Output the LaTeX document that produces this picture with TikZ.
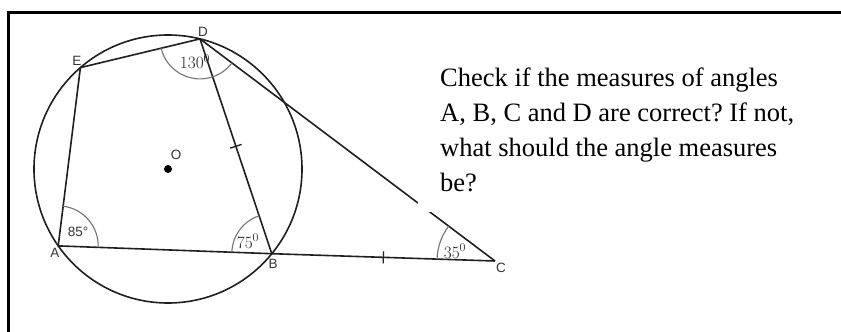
\documentclass[tikz,border=0pt]{standalone}
\usepackage{fontspec}
\setmainfont{Liberation Serif}
\newfontfamily\ptfont{Liberation Sans}
\usetikzlibrary{angles,decorations.markings}

\tikzset{
    seg/.style={line width=1.6pt, draw=black!88},
    anglearc/.style={draw=black!55, line width=1.1pt, angle radius=40pt},
    ptlabel/.style={font=\ptfont\fontsize{13.5}{15}\selectfont, text=black!80, inner sep=0pt},
    measure/.style={font=\fontsize{16.5}{18}\selectfont, text=black!85, inner sep=0pt},
    tickmid/.style={postaction={decorate},
        decoration={markings, mark=at position 0.5 with {\draw[line width=1.3pt] (0,-6pt) -- (0,6pt);}}}
}

\begin{document}
\frenchspacing
\begin{tikzpicture}[x=1pt, y=1pt]
        \useasboundingbox (0,0) rectangle (841,332);

        % Frame
        \draw[line width=3pt] (8,0) -- (8,319) -- (841,319);

        % Circle and points on it
        \coordinate (O) at (168,163);
        \coordinate (D) at (200,293.1);
        \coordinate (E) at (80.4,264.4);
        \coordinate (A) at (58.2,86.1);
        \coordinate (B) at (271.8,78.3);
        \coordinate (C) at (495,71);
        \draw[seg] (O) circle (134);
        \fill (O) circle (4pt);

        % Sides
        \draw[seg] (D) -- (E) -- (A) -- (B);
        \draw[seg, tickmid] (D) -- (B);
        \draw[seg, tickmid] (B) -- (C);
        \draw[seg] (D) -- (C);

        % Angle marks
        \pic[anglearc] {angle = B--A--E};
        \pic[anglearc] {angle = D--B--A};
        \pic[anglearc] {angle = E--D--C};
        \pic[anglearc, angle radius=58pt] {angle = D--C--B};

        \node[ptlabel] (labA) at (55,79) {A};
        \node[ptlabel] (labB) at (273,68) {B};
        \node[ptlabel] (labC) at (501,64) {C};
        \node[ptlabel] (labD) at (203,300) {D};
        \node[ptlabel] (labE) at (77,271) {E};
        \node[ptlabel] (labO) at (176,177) {O};

        \node[ptlabel] (angA) at (78,100) {85°};
        \node[measure] (angB) at (248,91) {$75^0$};
        \node[measure] (angD) at (195,270) {$130^0$};
        \node[measure] (angC) at (455,81) {$35^0$};

        % Question
        \node[fill=white, anchor=south west, inner xsep=22pt, inner ysep=20pt, align=left,
              font=\fontsize{26.5}{35}\selectfont] (question) at (418,120)
              {Check if the measures of angles\\A, B, C and D are correct? If not,\\what should the angle measures\\be?};
\end{tikzpicture}
\end{document}
